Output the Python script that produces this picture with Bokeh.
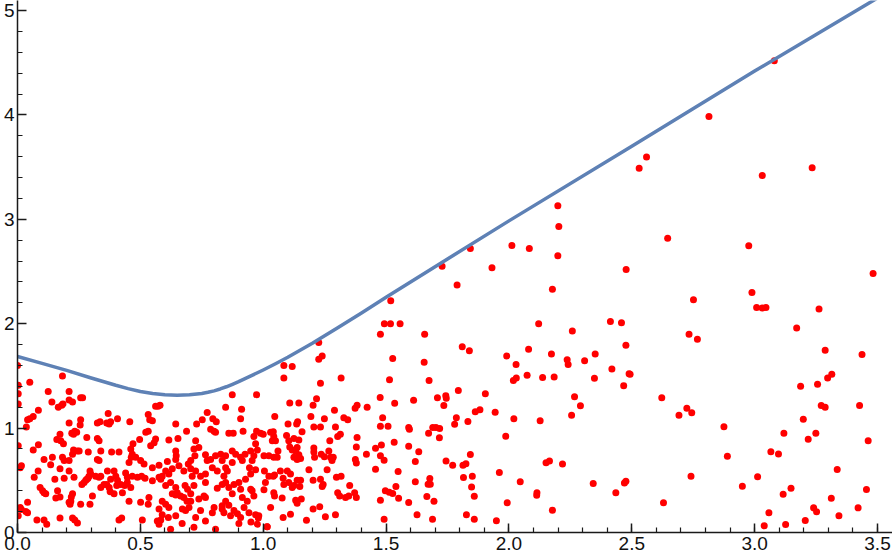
from bokeh.plotting import figure
from bokeh.models import Range1d, SingleIntervalTicker, PrintfTickFormatter, ColumnDataSource
from bokeh.embed import file_html
from bokeh.resources import INLINE

# boundary curve
curve_x = [0.0, 0.1, 0.2, 0.3, 0.4, 0.45, 0.5, 0.55, 0.6, 0.65, 0.7, 0.75, 0.775, 0.8, 0.825, 0.85,
           0.875, 0.9, 0.95, 1.0, 1.05, 1.1, 1.2, 1.3, 1.4, 1.5, 1.75, 2.0, 2.5, 3.0, 3.5, 3.56]
curve_y = [1.686, 1.62, 1.553, 1.48, 1.41, 1.378, 1.350, 1.331, 1.320, 1.315, 1.319, 1.332, 1.343, 1.357, 1.375, 1.396,
           1.420, 1.445, 1.500, 1.557, 1.617, 1.679, 1.812, 1.957, 2.103, 2.253, 2.62, 2.985, 3.70, 4.42, 5.12, 5.21]

# scattered samples, grouped by region of the plot (x, y)
pts_left = [
    (0.0, 1.60), (0.05, 1.44), (0.183, 1.50), (0.003, 1.41), (0.003, 1.33), (0.125, 1.35), (0.21, 1.35),
    (0.21, 1.27), (0.224, 1.25), (0.257, 1.29), (0.265, 1.29), (0.14, 1.25), (0.166, 1.20), (0.18, 1.22),
    (0.185, 1.23), (0.085, 1.17), (0.064, 1.11), (0.05, 1.09), (0.041, 1.08), (0.003, 1.23), (0.036, 1.01),
    (0.21, 1.05), (0.257, 1.08), (0.255, 1.03), (0.325, 1.05), (0.336, 1.06), (0.369, 1.14), (0.363, 1.05),
    (0.373, 1.04), (0.379, 1.06), (0.407, 1.09), (0.241, 0.96), (0.233, 0.97), (0.228, 0.94), (0.221, 0.95),
    (0.173, 0.94), (0.176, 0.88), (0.16, 0.89), (0.187, 0.85), (0.282, 0.91), (0.325, 0.90), (0.332, 0.88),
    (0.339, 0.78), (0.064, 0.79), (0.085, 0.84), (0.003, 0.83), (0.228, 0.79), (0.244, 0.78), (0.251, 0.78),
    (0.108, 0.70), (0.142, 0.72), (0.183, 0.72), (0.19, 0.69), (0.224, 0.75), (0.21, 0.69), (0.288, 0.77),
    (0.332, 0.69), (0.325, 0.70), (0.383, 0.77), (0.413, 0.77), (0.135, 0.65), (0.016, 0.64), (0.011, 0.62),
    (0.173, 0.61), (0.21, 0.59), (0.084, 0.59), (0.295, 0.59), (0.291, 0.54), (0.287, 0.52), (0.298, 0.56),
    (0.282, 0.51), (0.318, 0.54), (0.332, 0.53), (0.339, 0.54), (0.366, 0.59), (0.393, 0.59), (0.4, 0.54),
    (0.379, 0.51), (0.407, 0.50), (0.44, 0.57), (0.447, 0.48), (0.461, 0.43), (0.068, 0.53), (0.152, 0.51),
    (0.19, 0.52), (0.23, 0.53), (0.271, 0.48), (0.278, 0.50), (0.262, 0.46), (0.339, 0.43), (0.352, 0.46),
    (0.363, 0.46), (0.373, 0.43), (0.404, 0.45), (0.42, 0.46), (0.436, 0.45), (0.092, 0.43), (0.102, 0.40),
    (0.108, 0.38), (0.115, 0.37), (0.163, 0.40), (0.156, 0.33), (0.224, 0.37), (0.219, 0.34), (0.173, 0.34),
    (0.305, 0.35), (0.377, 0.39), (0.393, 0.37), (0.427, 0.38), (0.217, 0.30), (0.21, 0.29), (0.214, 0.27),
    (0.257, 0.27), (0.295, 0.27), (0.041, 0.29), (0.011, 0.24), (0.016, 0.22), (0.034, 0.20), (0.041, 0.19),
    (0.454, 0.30), (0.173, 0.14), (0.079, 0.12), (0.108, 0.12), (0.119, 0.08), (0.224, 0.14), (0.233, 0.12),
    (0.244, 0.09), (0.413, 0.12), (0.424, 0.14), (0.003, 0.16),
]

pts_mid = [
    (0.874, 1.32), (0.572, 1.21), (0.58, 1.22), (0.562, 1.21), (0.847, 1.20), (0.912, 1.18), (0.772, 1.15),
    (0.532, 1.13), (0.538, 1.08), (0.549, 1.07), (0.457, 1.06), (0.644, 1.04), (0.729, 1.04), (0.752, 1.08),
    (0.795, 1.09), (0.809, 1.06), (0.908, 1.09), (0.786, 0.99), (0.80, 0.97), (0.806, 0.96), (0.688, 0.97),
    (0.616, 0.885), (0.653, 0.90), (0.522, 0.96), (0.532, 0.97), (0.497, 0.89), (0.562, 0.895), (0.556, 0.86),
    (0.542, 0.83), (0.86, 0.95), (0.878, 0.95), (0.918, 0.97), (0.962, 0.92), (0.47, 0.85), (0.461, 0.80),
    (0.467, 0.75), (0.463, 0.72), (0.454, 0.67), (0.481, 0.72), (0.501, 0.69), (0.515, 0.655), (0.549, 0.62),
    (0.576, 0.645), (0.61, 0.68), (0.644, 0.78), (0.646, 0.735), (0.644, 0.70), (0.657, 0.64), (0.695, 0.655),
    (0.705, 0.69), (0.718, 0.80), (0.725, 0.88), (0.722, 0.735), (0.738, 0.815), (0.765, 0.745), (0.772, 0.69),
    (0.786, 0.70), (0.806, 0.735), (0.827, 0.75), (0.833, 0.69), (0.847, 0.735), (0.874, 0.78), (0.888, 0.75),
    (0.908, 0.72), (0.915, 0.69), (0.926, 0.75), (0.949, 0.78), (0.962, 0.735), (0.955, 0.69), (0.944, 0.62),
    (0.874, 0.67), (0.847, 0.62), (0.854, 0.59), (0.84, 0.54), (0.813, 0.59), (0.793, 0.62), (0.765, 0.56),
    (0.745, 0.54), (0.725, 0.59), (0.705, 0.61), (0.711, 0.54), (0.677, 0.59), (0.63, 0.61), (0.603, 0.59),
    (0.589, 0.54), (0.583, 0.51), (0.467, 0.54), (0.447, 0.53), (0.488, 0.53), (0.505, 0.54), (0.519, 0.52),
    (0.549, 0.495), (0.576, 0.53), (0.616, 0.56), (0.623, 0.48), (0.603, 0.45), (0.644, 0.43), (0.65, 0.38),
    (0.682, 0.45), (0.692, 0.415), (0.705, 0.37), (0.677, 0.335), (0.664, 0.35), (0.644, 0.36), (0.63, 0.37),
    (0.718, 0.45), (0.765, 0.48), (0.813, 0.425), (0.833, 0.46), (0.847, 0.48), (0.86, 0.43), (0.881, 0.46),
    (0.901, 0.48), (0.928, 0.51), (0.949, 0.56), (0.908, 0.415), (0.874, 0.37), (0.915, 0.335), (0.935, 0.30),
    (0.962, 0.35), (0.847, 0.30), (0.833, 0.256), (0.833, 0.224), (0.84, 0.19), (0.80, 0.24), (0.765, 0.335),
    (0.759, 0.35), (0.738, 0.32), (0.705, 0.30), (0.698, 0.24), (0.684, 0.21), (0.671, 0.224), (0.616, 0.24),
    (0.603, 0.27), (0.589, 0.30), (0.576, 0.224), (0.535, 0.335), (0.532, 0.27), (0.501, 0.29), (0.644, 0.16),
    (0.614, 0.144), (0.589, 0.17), (0.583, 0.12), (0.569, 0.11), (0.576, 0.08), (0.508, 0.12), (0.901, 0.086),
    (0.725, 0.144), (0.765, 0.11), (0.745, 0.21), (0.793, 0.19), (0.867, 0.16), (0.881, 0.21), (0.922, 0.24),
    (0.942, 0.19), (0.623, 0.03), (0.718, 0.05), (0.806, 0.03), (0.908, 0.144), (0.67, 0.086), (0.69, 0.30),
    (0.86, 0.26), (0.895, 0.18), (0.95, 0.10), (0.98, 0.14), (1.016, 0.055),
]

pts_right = [
    (1.084, 1.60), (1.118, 1.59), (1.226, 1.82), (1.24, 1.69), (1.226, 1.66), (1.084, 1.48), (1.233, 1.43),
    (1.317, 1.48), (0.973, 1.32), (1.108, 1.24), (1.145, 1.24), (1.203, 1.22), (1.217, 1.28), (1.29, 1.17),
    (1.382, 1.22), (1.374, 1.19), (1.423, 1.20), (1.047, 1.11), (1.194, 1.11), (1.249, 1.09), (1.328, 1.10),
    (1.344, 1.08), (0.973, 0.97), (0.989, 0.95), (1.0, 0.94), (1.03, 0.96), (1.041, 0.965), (1.043, 0.92),
    (1.037, 0.88), (1.05, 0.88), (1.095, 0.93), (1.104, 0.88), (1.136, 1.04), (1.14, 1.06), (1.101, 1.04),
    (1.158, 0.965), (1.206, 1.01), (1.233, 1.01), (1.294, 1.01), (1.314, 0.94), (1.303, 0.92), (1.271, 0.88),
    (1.125, 0.90), (1.145, 0.885), (1.138, 0.815), (1.132, 0.78), (1.145, 0.745), (1.108, 0.82), (1.118, 0.79),
    (0.969, 0.85), (0.976, 0.79), (1.003, 0.735), (1.023, 0.735), (1.043, 0.72), (1.06, 0.78), (1.057, 0.72),
    (1.125, 0.72), (1.138, 0.70), (1.152, 0.71), (1.206, 0.81), (1.206, 0.77), (1.209, 0.72), (1.236, 0.75),
    (1.249, 0.725), (1.267, 0.78), (1.274, 0.72), (1.285, 0.72), (1.28, 0.69), (1.382, 0.91), (1.379, 0.82),
    (1.42, 0.75), (1.375, 0.70), (1.379, 0.665), (0.969, 0.60), (1.005, 0.59), (1.023, 0.54), (1.009, 0.48),
    (1.003, 0.41), (1.041, 0.54), (1.046, 0.55), (1.07, 0.59), (1.098, 0.59), (1.111, 0.56), (1.081, 0.52),
    (1.084, 0.46), (1.104, 0.48), (1.118, 0.43), (1.125, 0.45), (1.138, 0.50), (1.152, 0.50), (1.149, 0.44),
    (1.186, 0.60), (1.203, 0.50), (1.233, 0.51), (1.244, 0.46), (1.24, 0.44), (1.26, 0.60), (1.298, 0.53),
    (1.317, 0.54), (1.352, 0.45), (1.303, 0.38), (1.311, 0.35), (1.335, 0.335), (1.348, 0.35), (1.372, 0.38),
    (1.379, 0.335), (0.949, 0.415), (0.955, 0.40), (1.046, 0.35), (1.043, 0.38), (1.077, 0.33), (1.132, 0.31),
    (1.138, 0.28), (1.155, 0.32), (1.03, 0.24), (0.969, 0.17), (0.982, 0.16), (1.081, 0.144), (1.111, 0.175),
    (1.203, 0.224), (1.23, 0.246), (1.253, 0.15), (1.294, 0.17), (1.176, 0.118), (0.976, 0.08), (1.016, 0.054),
]

pts_sparse = [
    (2.199, 3.13), (2.203, 2.93), (2.199, 2.65), (2.012, 2.75), (2.083, 2.72), (1.843, 2.72), (1.728, 2.55),
    (1.931, 2.535), (2.477, 2.52), (1.789, 2.37), (2.177, 2.33), (1.519, 2.22), (1.493, 2.00), (1.518, 2.00),
    (1.557, 2.00), (1.477, 1.90), (1.657, 1.90), (2.121, 2.00), (2.258, 1.93), (2.413, 2.02), (2.458, 2.01),
    (1.81, 1.78), (1.839, 1.74), (1.527, 1.667), (1.655, 1.63), (1.675, 1.456), (1.514, 1.462), (2.08, 1.756),
    (1.991, 1.69), (2.029, 1.61), (2.173, 1.711), (2.237, 1.654), (2.241, 1.61), (2.308, 1.644), (2.351, 1.711),
    (2.476, 1.794), (2.419, 1.565), (2.489, 1.52), (2.074, 1.507), (2.018, 1.456), (2.03, 1.48), (2.137, 1.485),
    (2.184, 1.49), (2.348, 1.478), (2.467, 1.405), (1.476, 1.293), (1.535, 1.239), (1.612, 1.268), (1.709, 1.29),
    (1.743, 1.31), (1.745, 1.287), (1.735, 1.217), (1.794, 1.36), (1.904, 1.328), (1.863, 1.156), (1.882, 1.175),
    (1.944, 1.153), (2.267, 1.30), (2.291, 1.213), (2.255, 1.124), (2.127, 1.07), (2.02, 1.089), (1.786, 1.10),
    (1.779, 1.038), (1.833, 1.063), (1.673, 0.951), (1.69, 1.006), (1.703, 1.006), (1.718, 0.996), (1.717, 0.907),
    (1.592, 1.006), (1.595, 0.99), (1.486, 1.10), (1.477, 1.017), (1.508, 1.017), (1.533, 0.865), (1.457, 0.808),
    (1.481, 0.837), (1.477, 0.734), (1.492, 0.693), (1.457, 0.607), (1.592, 0.827), (1.633, 0.773), (1.619, 0.68),
    (1.987, 0.923), (1.843, 0.747), (1.744, 0.686), (1.771, 0.645), (1.813, 0.645), (1.825, 0.658), (1.549, 0.584),
    (1.619, 0.485), (1.678, 0.517), (1.671, 0.463), (1.68, 0.463), (1.54, 0.44), (1.497, 0.40), (1.513, 0.386),
    (1.527, 0.374), (1.551, 0.329), (1.477, 0.31), (1.592, 0.287), (1.666, 0.345), (1.695, 0.30), (1.815, 0.527),
    (1.851, 0.54), (1.848, 0.437), (1.859, 0.348), (1.961, 0.575), (2.046, 0.485), (2.151, 0.667), (2.165, 0.686),
    (2.218, 0.655), (2.114, 0.38), (2.113, 0.358), (1.993, 0.284), (2.177, 0.214), (2.343, 0.469), (2.435, 0.38),
    (2.47, 0.473), (2.476, 0.49), (1.492, 0.128), (1.626, 0.17), (1.689, 0.128), (1.827, 0.17), (1.859, 0.128),
    (1.949, 0.112),
]

pts_far = [
    (3.08, 4.518), (2.814, 3.985), (2.56, 3.598), (2.53, 3.49), (3.031, 3.42), (3.234, 3.493), (2.646, 2.819),
    (2.976, 2.746), (3.482, 2.48), (2.989, 2.30), (3.008, 2.155), (3.031, 2.15), (3.046, 2.155), (2.751, 2.23),
    (3.262, 2.14), (2.733, 1.90), (2.767, 1.85), (3.171, 1.96), (3.287, 1.746), (3.437, 1.705), (2.493, 1.517),
    (3.297, 1.48), (3.314, 1.517), (3.256, 1.42), (3.187, 1.40), (2.622, 1.29), (2.724, 1.19), (2.692, 1.124),
    (2.744, 1.146), (3.271, 1.216), (3.287, 1.20), (3.427, 1.216), (3.198, 1.086), (2.875, 1.012), (3.119, 0.951),
    (3.249, 0.951), (3.218, 0.894), (3.462, 0.878), (3.066, 0.773), (3.097, 0.751), (2.889, 0.731), (3.336, 0.603),
    (2.741, 0.54), (3.012, 0.533), (2.95, 0.444), (3.116, 0.367), (3.148, 0.425), (3.455, 0.412), (3.312, 0.329),
    (2.629, 0.284), (3.24, 0.236), (3.252, 0.198), (3.421, 0.236), (3.058, 0.188), (3.343, 0.16), (3.206, 0.115),
    (3.126, 0.077), (3.039, 0.064),
]

all_pts = pts_left + pts_mid + pts_right + pts_sparse + pts_far
src = ColumnDataSource(data=dict(x=[q[0] for q in all_pts], y=[q[1] for q in all_pts]))

p = figure(width=892, height=558, x_range=Range1d(0, 3.561), y_range=Range1d(0, 5.096),
           output_backend="svg", toolbar_location=None,
           min_border_left=16, min_border_right=0, min_border_top=0, min_border_bottom=26)
p.grid.visible = False
p.outline_line_color = None
p.background_fill_color = "white"
p.border_fill_color = "white"

p.scatter("x", "y", source=src, size=7, fill_color="#ff0000", line_color=None)
p.line(curve_x, curve_y, line_color="#5e81b5", line_width=3.5, line_join="round")

p.xaxis.ticker = SingleIntervalTicker(interval=0.5, num_minor_ticks=5)
p.xaxis.formatter = PrintfTickFormatter(format="%.1f")
p.yaxis.ticker = SingleIntervalTicker(interval=1, num_minor_ticks=5)

for ax in (p.xaxis, p.yaxis):
    ax.major_tick_in = 9
    ax.major_tick_out = 0
    ax.minor_tick_in = 5
    ax.minor_tick_out = 0
    ax.axis_line_width = 1.5
    ax.axis_line_color = "#1a1a1a"
    ax.major_tick_line_color = "#1a1a1a"
    ax.minor_tick_line_color = "#1a1a1a"
    ax.major_tick_line_width = 1.5
    ax.minor_tick_line_width = 1.2
    ax.major_label_text_font = "Liberation Sans"
    ax.major_label_text_font_size = "19px"
    ax.major_label_text_color = "#111111"
p.xaxis.major_label_standoff = 4
p.yaxis.major_label_standoff = 3

open("out.html", "w").write(file_html(p, INLINE))
